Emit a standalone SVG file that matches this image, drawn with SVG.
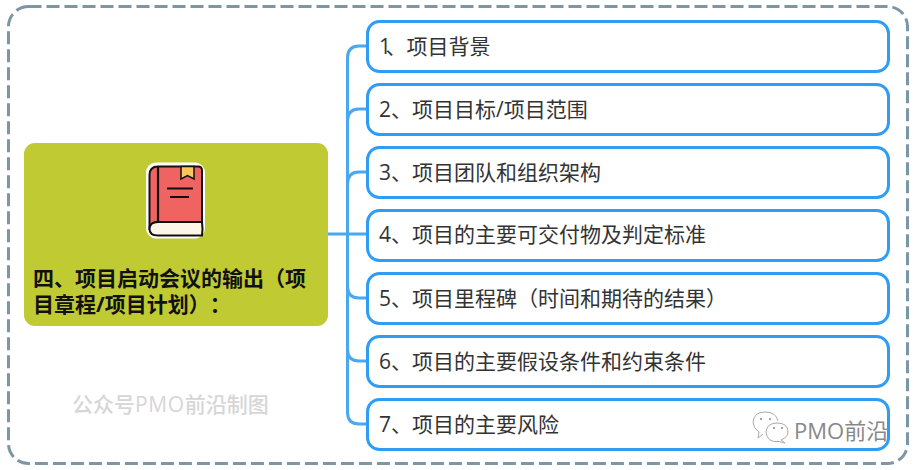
<svg xmlns="http://www.w3.org/2000/svg" width="916" height="470" viewBox="0 0 916 470">
<style>
text{font-family:"Open Sans","Noto Sans CJK SC",sans-serif;text-spacing-trim:space-all;font-kerning:none}
.n{fill:#fff;stroke:#2f9df4;stroke-width:3}
.t{font-size:21px;fill:#333}
.c{fill:none;stroke:#4aa8f0;stroke-width:3}
.k{fill:none;stroke:#111;stroke-width:2.2}
</style>
<rect x="0" y="0" width="916" height="470" fill="#fff"/>
<rect id="frame" x="8.500" y="6.500" width="899" height="457" rx="20" fill="#fff" stroke="#7d96a5" stroke-width="3" stroke-dasharray="13 5"/>
<g id="connectors">
<path class="c" d="M327 234H347"/>
<path class="c" d="M367 46H359Q347.500 46 347.500 58V412Q347.500 424 359 424H367"/>
<path class="c" d="M367 109H359Q347.500 109 347.500 121"/>
<path class="c" d="M367 172H359Q347.500 172 347.500 184"/>
<path class="c" d="M347 234H367"/>
<path class="c" d="M367 298H359Q347.500 298 347.500 286"/>
<path class="c" d="M367 361H359Q347.500 361 347.500 349"/>
</g>
<g id="root">
<rect x="24" y="143" width="304" height="183" rx="11" fill="#c0ca33"/>
<g id="book">
<rect x="146" y="162.500" width="59" height="76" rx="10" fill="#fff"/>
<path d="M149.500 230V175Q149.500 166.500 158 166.500H198Q202 166.500 202 170.500V222H160Q149.500 222 149.500 230Z" fill="#ef6461" stroke="#111" stroke-width="2"/>
<path d="M158 166V222" class="k"/>
<path d="M202 222H158Q149.500 222 149.500 229Q149.500 235.500 158 235.500H202Q203 229 202 222Z" fill="#fdf6e8" stroke="#111" stroke-width="2"/>
<path d="M181 166.500H194V179L187.500 175.500L181 179Z" fill="#fbc75a" stroke="#111" stroke-width="1.500"/>
<path d="M167 188.500H193M170 197H189" class="k"/>
</g>
<text x="33" y="285.500" font-size="21" font-weight="700" fill="#111">四、项目启动会议的输出（项</text>
<text x="33" y="311.500" font-size="21" font-weight="700" fill="#111">目章程/项目计划）：</text>
</g>
<g id="n1"><rect class="n" x="367.500" y="21.500" width="521" height="50" rx="12"/><text class="t" x="379 385.500" y="53.500">1、项目背景</text></g>
<g id="n2"><rect class="n" x="367.500" y="84.500" width="521" height="50" rx="12"/><text class="t" x="379" y="116.500">2、项目目标/项目范围</text></g>
<g id="n3"><rect class="n" x="367.500" y="147.500" width="521" height="50" rx="12"/><text class="t" x="379" y="179.500">3、项目团队和组织架构</text></g>
<g id="n4"><rect class="n" x="367.500" y="210.500" width="521" height="50" rx="12"/><text class="t" x="379" y="241.500">4、项目的主要可交付物及判定标准</text></g>
<g id="n5"><rect class="n" x="367.500" y="273.500" width="521" height="50" rx="12"/><text class="t" x="379" y="305.500">5、项目里程碑（时间和期待的结果）</text></g>
<g id="n6"><rect class="n" x="367.500" y="336.500" width="521" height="50" rx="12"/><text class="t" x="379" y="368.500">6、项目的主要假设条件和约束条件</text></g>
<g id="n7"><rect class="n" x="367.500" y="399.500" width="521" height="50" rx="12"/><text class="t" x="379" y="431.500">7、项目的主要风险</text></g>
<text x="72" y="412" font-size="21" font-weight="500" fill="#d6d6d6">公众号<tspan letter-spacing=".6">PMO</tspan>前沿制图</text>
<g id="wechat" fill="none" stroke="#aaa" stroke-width="1">
<path d="M763 434L758 438L759 432Q753 428 753 422Q754 412 765 412Q776 412 778 421"/>
<path d="M781 440L785 443L779 441.500Q767 443 766 432Q767 423 777 423Q788 423 788 432Q788 437 781 440Z" fill="#fff"/>
<path d="M760 419h2M769 419h2M773 428h2M781 428h2" stroke="#888" stroke-width="1.500"/>
</g>
<text x="794" y="438.500" font-size="22" fill="#888">PMO前沿</text>
</svg>
